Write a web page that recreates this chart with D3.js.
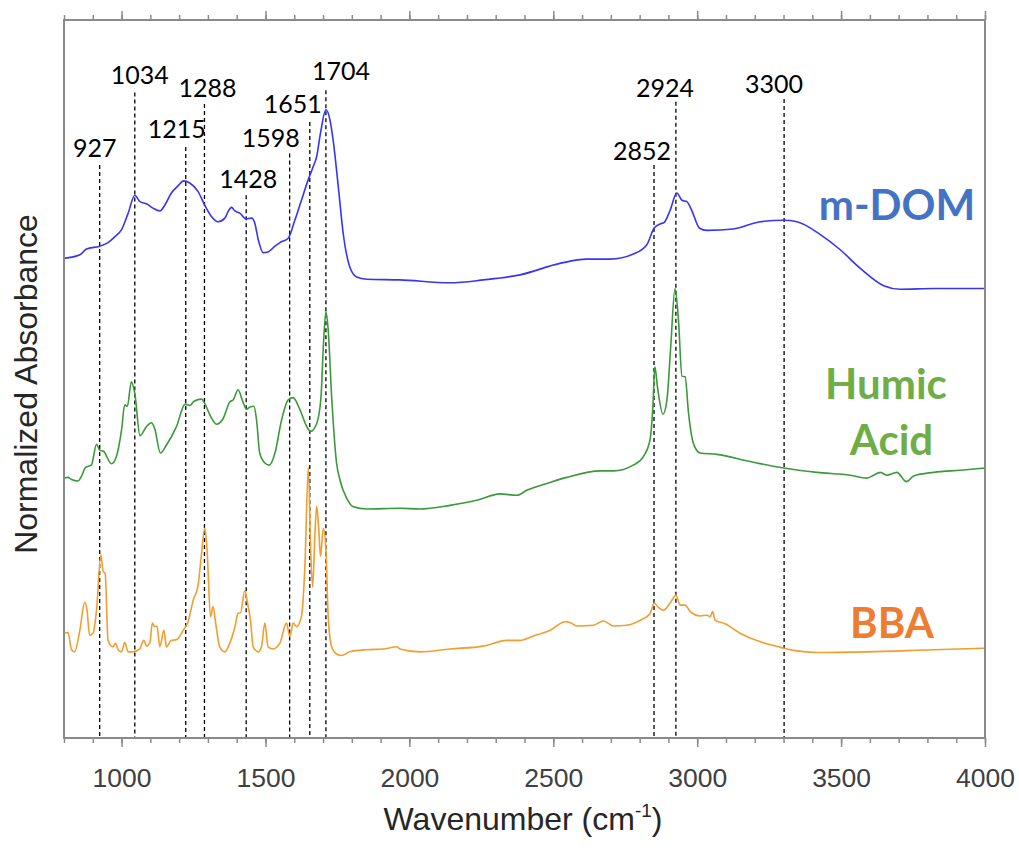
<!DOCTYPE html>
<html lang="en">

<head>
    <meta charset="UTF-8">
    <title>FTIR spectra</title>
    <style>
        body {
            margin: 0;
            background-color: #ffffff;
        }

        .tick-label {
            font-family: "Liberation Sans", Arial, sans-serif;
            font-size: 26.5px;
            fill: #404040;
        }

        .peak-label {
            font-family: Lato, "Open Sans", sans-serif;
            font-size: 25px;
            fill: #000;
        }

        .series-label {
            font-family: Lato, "Open Sans", sans-serif;
            font-size: 42px;
            font-weight: bold;
        }

        .axis-title {
            font-family: "Liberation Sans", Arial, sans-serif;
            font-size: 32px;
            fill: #262626;
        }
    </style>
</head>

<body>
    <script src="https://d3js.org/d3.v7.min.js"></script>
    <div id="my_dataviz"></div>
    <script>

        // spectra: [wavenumber, normalized absorbance (offset)]
        const mdom = [
            [800, 66.8], [855, 67.3], [878, 68.1], [924, 68.5], [953, 69.0], [976, 69.8], [1000, 70.8],
            [1023, 73.1], [1046, 75.6], [1064, 74.7], [1087, 74.4], [1109, 73.8], [1133, 73.4], [1150, 74.2],
            [1173, 75.9], [1196, 76.9], [1216, 77.6], [1237, 77.3], [1266, 76.1], [1289, 74.2], [1313, 72.6],
            [1335, 71.9], [1359, 72.4], [1370, 73.3], [1382, 73.9], [1394, 73.4], [1411, 73.1], [1432, 72.3],
            [1452, 72.4], [1463, 71.7], [1475, 69.4], [1492, 67.6], [1509, 67.7], [1533, 68.5], [1550, 69.0],
            [1579, 69.6], [1602, 72.1], [1625, 74.9], [1648, 77.7], [1666, 79.6], [1678, 81.0], [1691, 84.2],
            [1710, 87.5], [1724, 86.1], [1735, 83.3], [1753, 76.8], [1770, 70.3], [1793, 65.6], [1817, 64.2],
            [1851, 63.9], [1967, 63.8], [2141, 63.4], [2257, 63.8], [2384, 64.5], [2523, 66.1], [2616, 66.7],
            [2697, 66.7], [2778, 67.4], [2825, 68.7], [2850, 71.0], [2871, 71.6], [2885, 71.8], [2906, 73.5],
            [2929, 75.9], [2947, 74.9], [2964, 74.7], [2981, 73.5], [3008, 71.0], [3034, 70.7], [3126, 70.9],
            [3219, 71.9], [3300, 72.1], [3347, 71.9], [3428, 70.1], [3497, 68.0], [3567, 65.4], [3648, 63.0],
            [3706, 62.5], [3822, 62.6], [4000, 62.6]
        ];

        const humic = [
            [800, 36.2], [814, 36.3], [826, 36.0], [849, 35.8], [860, 36.4], [875, 37.7], [895, 38.0],
            [913, 40.9], [924, 40.1], [938, 39.9], [965, 38.2], [982, 39.2], [1000, 42.9], [1011, 46.4],
            [1020, 46.2], [1034, 49.6], [1046, 48.0], [1064, 42.1], [1087, 43.4], [1104, 43.9], [1115, 43.1],
            [1135, 39.7], [1156, 40.8], [1191, 43.4], [1221, 46.5], [1237, 46.3], [1252, 46.9], [1278, 47.2],
            [1289, 46.6], [1307, 45.0], [1330, 43.7], [1353, 44.5], [1376, 46.8], [1388, 47.1], [1405, 48.5],
            [1420, 47.0], [1434, 45.8], [1446, 46.1], [1460, 46.2], [1469, 44.3], [1480, 39.7], [1498, 38.3],
            [1513, 38.0], [1533, 39.7], [1556, 44.3], [1579, 47.1], [1596, 47.4], [1620, 45.7], [1643, 43.4],
            [1657, 42.7], [1678, 43.8], [1693, 47.5], [1701, 54.5], [1710, 59.4], [1718, 56.8], [1730, 47.5],
            [1747, 38.3], [1759, 35.9], [1782, 33.4], [1805, 32.2], [1851, 31.9], [1967, 32.0], [2037, 31.9],
            [2141, 32.4], [2234, 33.1], [2315, 34.0], [2373, 33.8], [2408, 34.5], [2489, 35.6], [2547, 36.3],
            [2664, 37.2], [2709, 37.2], [2778, 38.0], [2813, 39.2], [2836, 41.5], [2846, 46.1], [2853, 51.7],
            [2862, 48.9], [2881, 45.1], [2895, 47.1], [2908, 54.5], [2923, 62.6], [2935, 58.2], [2947, 50.4],
            [2958, 50.3], [2970, 45.2], [2987, 41.0], [3010, 39.7], [3068, 39.5], [3184, 38.5], [3300, 37.6],
            [3416, 37.0], [3532, 36.6], [3590, 36.2], [3613, 36.6], [3636, 37.0], [3659, 36.6], [3694, 37.0],
            [3727, 35.7], [3752, 36.5], [3822, 37.0], [3915, 37.3], [4000, 37.6]
        ];

        const bba = [
            [800, 14.6], [814, 14.7], [826, 12.3], [837, 12.0], [855, 15.0], [872, 18.9], [880, 17.8],
            [889, 14.3], [901, 14.6], [913, 17.8], [928, 25.5], [936, 23.2], [943, 22.9], [953, 13.6],
            [970, 12.7], [979, 13.2], [988, 12.3], [1000, 12.0], [1011, 13.3], [1023, 12.0], [1040, 12.0],
            [1063, 12.4], [1077, 13.6], [1087, 12.8], [1098, 13.2], [1107, 16.0], [1115, 15.5], [1123, 15.6],
            [1133, 12.7], [1147, 15.0], [1156, 12.7], [1173, 13.6], [1191, 13.7], [1214, 15.0], [1231, 16.2],
            [1249, 19.2], [1266, 21.3], [1278, 25.7], [1289, 29.2], [1297, 26.2], [1309, 16.9], [1318, 18.3],
            [1327, 16.0], [1341, 12.7], [1359, 12.0], [1376, 13.2], [1394, 15.5], [1405, 17.4], [1413, 17.4],
            [1428, 20.5], [1440, 18.3], [1448, 16.4], [1457, 12.7], [1475, 12.0], [1486, 12.7], [1498, 16.0],
            [1509, 12.7], [1527, 12.4], [1550, 13.2], [1573, 16.0], [1585, 14.1], [1596, 16.0], [1608, 15.5],
            [1625, 16.9], [1637, 23.9], [1649, 37.7], [1657, 26.2], [1664, 21.0], [1672, 28.5], [1678, 32.3],
            [1686, 28.5], [1691, 25.3], [1701, 29.2], [1710, 26.2], [1718, 16.9], [1730, 12.7], [1747, 11.7],
            [1765, 11.5], [1793, 12.0], [1851, 12.3], [1909, 12.4], [1956, 12.7], [1967, 12.4], [2037, 12.0],
            [2141, 12.4], [2257, 12.8], [2338, 13.6], [2384, 13.6], [2431, 14.2], [2489, 15.0], [2541, 16.2],
            [2558, 16.1], [2582, 15.6], [2639, 15.7], [2674, 16.3], [2709, 15.6], [2755, 15.7], [2802, 16.4],
            [2836, 17.3], [2851, 18.8], [2865, 18.2], [2883, 17.8], [2906, 18.8], [2926, 19.9], [2941, 18.5],
            [2958, 18.5], [2976, 17.6], [3010, 17.0], [3034, 17.1], [3045, 16.9], [3054, 17.6], [3062, 16.4],
            [3097, 15.9], [3149, 14.6], [3219, 13.4], [3283, 12.7], [3300, 12.5], [3335, 12.2], [3416, 11.9],
            [3590, 12.0], [3822, 12.3], [4000, 12.5]
        ];

        // peak labels and where their dashed guide lines are drawn (wavenumber)
        const peakLabels = ["927", "1034", "1215", "1288", "1428", "1598", "1651", "1704", "2852", "2924", "3300"];
        const peakLines = [924, 1046, 1223, 1288, 1433, 1584, 1654, 1710, 2850, 2926, 3302];
        // top of each guide line and label baseline, in absorbance units
        const peakTops = [79.8, 89.9, 82.3, 88.3, 75.6, 81.4, 85.8, 90.2, 79.8, 88.6, 89.0];
        const labelY = [80.9, 91.1, 83.6, 89.3, 76.6, 82.3, 87.0, 91.6, 80.5, 89.3, 89.8];
        const labelShift = [-5, 5, -9, 3, 2, -19, -17, 15, -12, -11, -10];

        const seriesNames = ["m-DOM", "Humic Acid", "BBA"];
        const lineColors = ["#3535f5", "#3a9a3a", "#f29d2e"];
        const textColors = ["#4472c4", "#70ad47", "#ed7d31"];

        const xMajor = [1000, 1500, 2000, 2500, 3000, 3500, 4000];

        // set the dimensions and margins of the graph
        const margin = { top: 20, right: 34, bottom: 110, left: 64 },
            width = 1019 - margin.left - margin.right,
            height = 848 - margin.top - margin.bottom;

        const svg = d3.select("#my_dataviz")
            .append("svg")
            .attr("width", 1019)
            .attr("height", 848)
            .append("g")
            .attr("transform", `translate(${margin.left},${margin.top})`);

        const x = d3.scaleLinear().domain([800, 4000]).range([0, width]);
        const y = d3.scaleLinear().domain([0, 100]).range([height, 0]);

        // dashed guide lines at the peaks
        svg.append("g")
            .selectAll("line")
            .data(peakLines)
            .join("line")
            .attr("x1", d => x(d))
            .attr("x2", d => x(d))
            .attr("y1", (d, i) => y(peakTops[i]))
            .attr("y2", height)
            .style("stroke", "#000")
            .style("stroke-width", 1.3)
            .style("stroke-dasharray", "4,3");

        svg.append("g")
            .selectAll("text")
            .data(peakLabels)
            .join("text")
            .attr("class", "peak-label")
            .attr("x", (d, i) => x(peakLines[i]) + labelShift[i])
            .attr("y", (d, i) => y(labelY[i]))
            .attr("text-anchor", "middle")
            .text(d => d);

        // the three spectra
        const line = d3.line()
            .x(d => x(d[0]))
            .y(d => y(d[1]))
            .curve(d3.curveMonotoneX);

        [mdom, humic, bba].forEach(function (s, i) {
            svg.append("path")
                .datum(s)
                .attr("fill", "none")
                .attr("stroke", lineColors[i])
                .attr("stroke-width", 1.6)
                .attr("d", line);
        });

        // frame + ticks
        const axisColor = "#8a8a8a";
        function styleAxis(g) {
            g.select(".domain").remove();
            g.selectAll(".tick line").attr("stroke", axisColor).attr("stroke-width", 1.5);
        }
        const minorTicks = d3.range(800, 4001, 100);

        svg.append("g")
            .attr("transform", `translate(0, ${height})`)
            .call(d3.axisBottom(x).tickValues(minorTicks).tickSize(5).tickFormat(""))
            .call(styleAxis);
        svg.append("g")
            .attr("transform", `translate(0, ${height})`)
            .call(d3.axisBottom(x).tickValues(xMajor).tickSize(9).tickPadding(21).tickFormat(d3.format("d")))
            .call(styleAxis)
            .call(g => g.selectAll(".tick text").attr("class", "tick-label").attr("fill", null));
        svg.append("g")
            .call(d3.axisTop(x).tickValues(minorTicks).tickSize(5).tickFormat(""))
            .call(styleAxis);
        svg.append("g")
            .call(d3.axisTop(x).tickValues(xMajor).tickSize(9).tickFormat(""))
            .call(styleAxis);

        svg.append("rect")
            .attr("width", width)
            .attr("height", height)
            .attr("fill", "none")
            .attr("stroke", axisColor)
            .attr("stroke-width", 2);

        // series names (Humic Acid on two lines)
        const nameX = [[3694], [3656, 3675], [3677]];
        const nameY = [[72.1], [47.2, 39.4], [13.9]];
        seriesNames.forEach(function (name, i) {
            const words = i === 1 ? name.split(" ") : [name];
            words.forEach(function (w, j) {
                svg.append("text")
                    .attr("class", "series-label")
                    .attr("x", x(nameX[i][j]))
                    .attr("y", y(nameY[i][j]))
                    .attr("text-anchor", "middle")
                    .attr("fill", textColors[i])
                    .text(w);
            });
        });

        // axis titles
        const xTitle = svg.append("text")
            .attr("class", "axis-title")
            .attr("x", 523 - margin.left)
            .attr("y", height + 92)
            .attr("text-anchor", "middle");
        xTitle.append("tspan").text("Wavenumber (cm");
        xTitle.append("tspan").attr("dy", -13).style("font-size", "19px").text("-1");
        xTitle.append("tspan").attr("dy", 13).text(")");

        svg.append("text")
            .attr("class", "axis-title")
            .attr("transform", `translate(${37 - margin.left}, ${384 - margin.top}) rotate(-90)`)
            .attr("text-anchor", "middle")
            .text("Normalized Absorbance");

    </script>
</body>

</html>
